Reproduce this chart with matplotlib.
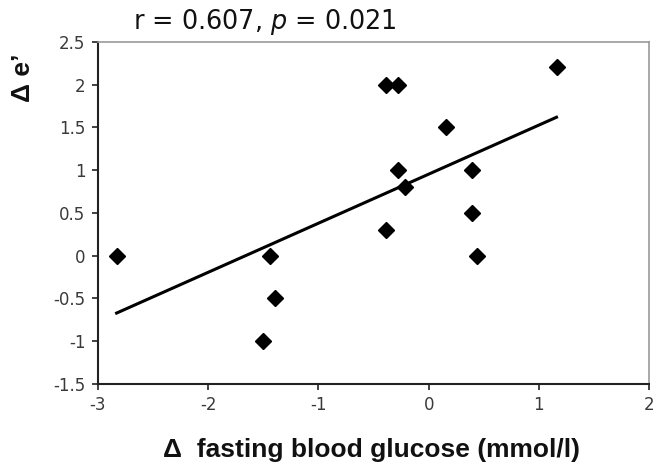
import numpy as np
import matplotlib
matplotlib.use("Agg")
import matplotlib.pyplot as plt

# datos
delta_glucose = [-2.83, -1.44, -1.39, -1.50, -0.39, -0.28, 0.16, -0.28,
                 -0.21, 0.39, 0.39, -0.39, 1.16, 0.44]
delta_e = [0.0, 0.0, -0.5, -1.0, 2.0, 2.0, 1.5, 1.0,
           0.8, 1.0, 0.5, 0.3, 2.2, 0.0]
x_ticks = [-3, -2, -1, 0, 1, 2]
y_ticks = [-1.5, -1, -0.5, 0, 0.5, 1, 1.5, 2, 2.5]
y_tick_labels = ["-1.5", "-1", "-0.5", "0", "0.5", "1", "1.5", "2", "2.5"]

plt.rcParams["mathtext.fontset"] = "dejavusans"
plt.rcParams["axes.unicode_minus"] = False

fig = plt.figure(figsize=(6.57, 4.70), dpi=100)
ax = fig.add_axes([0.149, 0.183, 0.839, 0.728])

# puntos
ax.plot(delta_glucose, delta_e, linestyle="none", marker="D",
        markersize=8, color="black")

# recta de regresion
slope, intercept = np.polyfit(delta_glucose, delta_e, 1)
x_line = np.array([min(delta_glucose), max(delta_glucose)])
ax.plot(x_line, slope * x_line + intercept, color="black", linewidth=2.2)

ax.set_xlim(-3, 2)
ax.set_ylim(-1.5, 2.5)
ax.set_xticks(x_ticks)
ax.set_yticks(y_ticks)
ax.set_yticklabels(y_tick_labels)
ax.tick_params(direction="out", length=4, width=1.2, colors="#222",
               labelcolor="#3a3a3a", labelsize=12)
for lbl in ax.get_xticklabels() + ax.get_yticklabels():
    lbl.set_family("DejaVu Sans")
ax.tick_params(axis="x", pad=5)
ax.tick_params(axis="y", pad=5)

ax.spines["left"].set_color("#222")
ax.spines["bottom"].set_color("#222")
ax.spines["left"].set_linewidth(1.5)
ax.spines["bottom"].set_linewidth(1.5)
ax.spines["top"].set_color("#999")
ax.spines["right"].set_color("#999")
ax.spines["top"].set_linewidth(1.2)
ax.spines["right"].set_linewidth(1.2)

# textos
fig.text(0.202, 0.953, "r = 0.607, $\\it{p}$ = 0.021", ha="left",
         va="center", fontsize=18.4, family="DejaVu Sans", color="#111")
fig.text(0.565, 0.043, "\u0394  fasting blood glucose (mmol/l)", ha="center",
         va="center", fontsize=19, fontweight="bold",
         family="Liberation Sans", color="#111")
fig.text(0.035, 0.834, "\u0394 e\u2019", ha="center", va="center",
         rotation=90, fontsize=19, fontweight="bold",
         family="Liberation Sans", color="#111")

fig.savefig("out.png", dpi=100)
